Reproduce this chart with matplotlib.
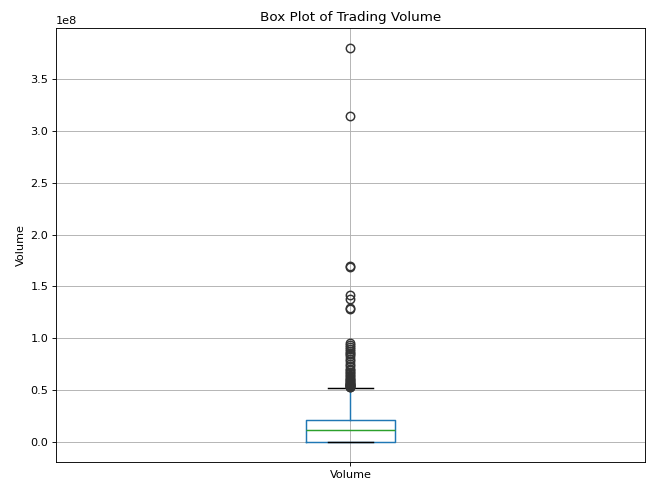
import numpy as np
import matplotlib.pyplot as plt

label = "Volume"

# summary stats for the Volume column
q1 = 0.6e6
median = 11.5e6
q3 = 21.4e6
whislo = 0.0
whishi = 52.6e6

fliers = [
    380e6, 314e6, 170e6, 169e6, 142e6, 138e6, 129e6, 128e6,
    96e6, 94e6, 92e6, 90e6, 88e6, 86e6, 85e6, 83e6, 80e6, 78e6,
    75e6, 73e6, 71e6, 70e6, 68e6, 67e6, 65e6, 64e6, 62e6, 61e6,
    60e6, 59e6, 58e6, 57e6, 56.5e6, 56e6, 55.5e6, 55e6, 54.5e6,
    54e6, 53.5e6, 53e6,
]

stats = [{
    "label": label,
    "q1": q1,
    "med": median,
    "q3": q3,
    "whislo": whislo,
    "whishi": whishi,
    "fliers": np.array(fliers),
}]

dpi = 80.75
fig, ax = plt.subplots(figsize=(646 / dpi, 480 / dpi), dpi=dpi)
fig.subplots_adjust(left=0.087, right=0.998, top=0.942, bottom=0.0375)

lw = 1.3
ax.bxp(
    stats,
    boxprops=dict(color="C0", linewidth=lw),
    whiskerprops=dict(color="C0", linewidth=lw),
    medianprops=dict(color="C2", linewidth=lw),
    capprops=dict(color="black", linewidth=lw),
    flierprops=dict(marker="o", markersize=7.5, markeredgewidth=1.3,
                    markeredgecolor="#333333", markerfacecolor="none"),
)

ax.grid(True)
ax.set_axisbelow(True)
ax.set_title("Box Plot of Trading Volume")
ax.set_ylabel("Volume")

plt.savefig("out.png", dpi=dpi)
